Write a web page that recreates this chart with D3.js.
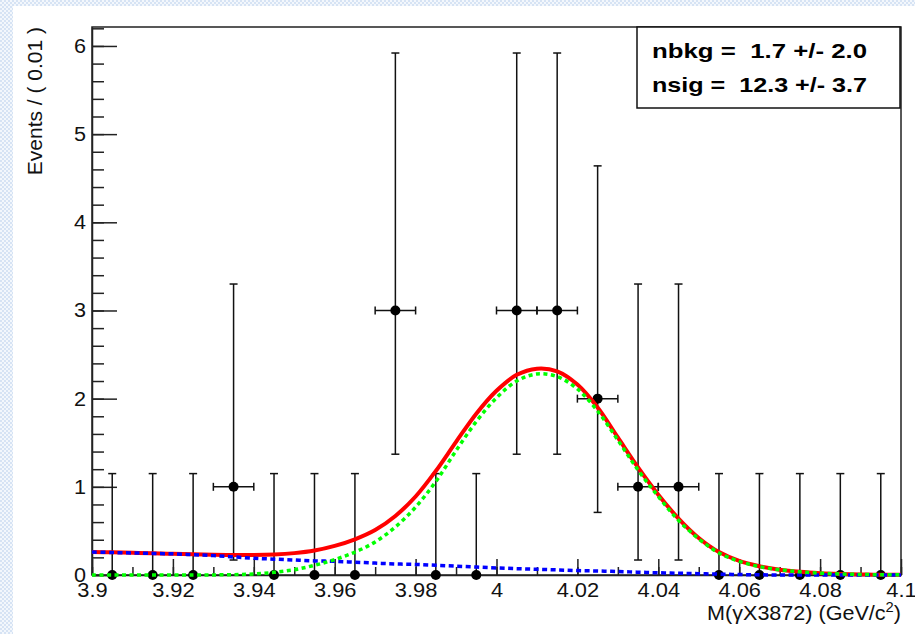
<!DOCTYPE html>
<html>
<head>
<meta charset="utf-8">
<script src="https://cdn.jsdelivr.net/npm/d3@7"></script>
<style>
  html, body { margin: 0; padding: 0; background: #fff; }
  svg { display: block; font-family: "Liberation Sans", Arial, sans-serif; }
</style>
</head>
<body>
<div id="chart-container"></div>
<script>
// Binned data: M(gamma X3872) bins of 0.01 GeV
const binCenters = [3.905, 3.915, 3.925, 3.935, 3.945, 3.955, 3.965, 3.975, 3.985, 3.995,
                    4.005, 4.015, 4.025, 4.035, 4.045, 4.055, 4.065, 4.075, 4.085, 4.095];
const counts    = [0, 0, 0, 1, 0, 0, 0, 3, 0, 0, 3, 3, 2, 1, 1, 0, 0, 0, 0, 0];
// Poisson error bar ends
const errLow    = [0, 0, 0, 0.17, 0, 0, 0, 1.37, 0, 0, 1.37, 1.37, 0.71, 0.17, 0.17, 0, 0, 0, 0, 0];
const errHigh   = [1.15, 1.15, 1.15, 3.30, 1.15, 1.15, 1.15, 5.92, 1.15, 1.15,
                   5.92, 5.92, 4.64, 3.30, 3.30, 1.15, 1.15, 1.15, 1.15, 1.15];

// Fit curves, read at the points of massGrid
const massGrid = [3.900, 3.905, 3.910, 3.915, 3.920, 3.925, 3.930, 3.935, 3.940, 3.945,
                  3.950, 3.955, 3.960, 3.965, 3.970, 3.975, 3.980, 3.985, 3.990, 3.995,
                  4.000, 4.005, 4.010, 4.015, 4.020, 4.025, 4.030, 4.035, 4.040, 4.045,
                  4.050, 4.055, 4.060, 4.065, 4.070, 4.075, 4.080, 4.085, 4.090, 4.095, 4.100];
const totalCurve = [0.26, 0.257, 0.252, 0.246, 0.24, 0.235, 0.23, 0.227, 0.226, 0.232,
                    0.248, 0.278, 0.33, 0.405, 0.51, 0.67, 0.89, 1.18, 1.51, 1.83,
                    2.09, 2.27, 2.34, 2.31, 2.16, 1.90, 1.56, 1.22, 0.91, 0.64,
                    0.42, 0.26, 0.16, 0.10, 0.06, 0.036, 0.021, 0.012, 0.006, 0.003, 0.002];
const bkgCurve   = [0.26, 0.255, 0.25, 0.245, 0.24, 0.23, 0.22, 0.205, 0.19, 0.18,
                    0.17, 0.16, 0.155, 0.145, 0.135, 0.125, 0.12, 0.11, 0.10, 0.09,
                    0.08, 0.072, 0.065, 0.058, 0.05, 0.045, 0.04, 0.032, 0.025, 0.02,
                    0.015, 0.01, 0.005, 0.002, 0, 0, 0, 0, 0, 0, 0];
const sigCurve   = [0, 0, 0, 0, 0, 0, 0.001, 0.004, 0.012, 0.03,
                    0.06, 0.11, 0.175, 0.26, 0.375, 0.545, 0.77, 1.06, 1.41, 1.74,
                    2.01, 2.20, 2.28, 2.25, 2.11, 1.86, 1.53, 1.19, 0.89, 0.62,
                    0.41, 0.25, 0.155, 0.095, 0.06, 0.036, 0.021, 0.012, 0.006, 0.003, 0.002];

const xTicks = [3.9, 3.92, 3.94, 3.96, 3.98, 4.0, 4.02, 4.04, 4.06, 4.08, 4.1];
const xTickLabels = ["3.9", "3.92", "3.94", "3.96", "3.98", "4", "4.02", "4.04", "4.06", "4.08", "4.1"];
const yTicks = [0, 1, 2, 3, 4, 5, 6];
const legendLines = ["nbkg =  1.7 +/- 2.0", "nsig =  12.3 +/- 3.7"];

const width = 915;
const height = 634;
const margin = { top: 27, right: 14, bottom: 59, left: 92 };

const svg = d3.select("#chart-container")
    .append("svg")
    .attr("width", width)
    .attr("height", height);

// the reference text is drawn a little wider than Liberation Sans, stretch it
function stretch(sel, factor) {
    sel.each(function () {
        const len = this.getComputedTextLength();
        d3.select(this)
            .attr("textLength", len * factor)
            .attr("lengthAdjust", "spacingAndGlyphs");
    });
}

// Checkered strip along the top and left edges (canvas viewer background)
const defs = svg.append("defs");
const pat = defs.append("pattern")
    .attr("id", "checker")
    .attr("width", 4)
    .attr("height", 4)
    .attr("patternUnits", "userSpaceOnUse");
pat.append("rect").attr("width", 4).attr("height", 4).attr("fill", "#f3f7fc");
pat.append("rect").attr("width", 2).attr("height", 2).attr("fill", "#d6e3f4");
pat.append("rect").attr("x", 2).attr("y", 2).attr("width", 2).attr("height", 2).attr("fill", "#d6e3f4");
svg.append("rect").attr("x", 0).attr("y", 0).attr("width", width).attr("height", 6).attr("fill", "url(#checker)");
svg.append("rect").attr("x", 0).attr("y", 0).attr("width", 13).attr("height", height).attr("fill", "url(#checker)");

const x = d3.scaleLinear()
    .domain([3.9, 4.1])
    .range([margin.left, width - margin.right]);
const y = d3.scaleLinear()
    .domain([0, 6.215])
    .range([height - margin.bottom, margin.top]);

const x0 = x.range()[0], x1 = x.range()[1];
const y0 = y.range()[0], y1 = y.range()[1];

// Frame
svg.append("rect")
    .attr("x", x0).attr("y", y1)
    .attr("width", x1 - x0).attr("height", y0 - y1)
    .attr("fill", "none")
    .attr("stroke", "#222")
    .attr("stroke-width", 1.5);

// Y axis: minor ticks every 0.2, major every 1, pointing inward
svg.append("g")
    .attr("transform", `translate(${x0},0)`)
    .call(d3.axisLeft(y).tickValues(d3.range(0, 6.21, 0.2)).tickSize(-12).tickSizeOuter(0).tickFormat(""))
    .call(g => g.select(".domain").remove())
    .call(g => g.selectAll("line").attr("stroke", "#222").attr("stroke-width", 1.5));

svg.append("g")
    .attr("transform", `translate(${x0},0)`)
    .call(d3.axisLeft(y).tickValues(yTicks).tickSize(-25).tickSizeOuter(0).tickPadding(6).tickFormat(d3.format("d")))
    .call(g => g.select(".domain").attr("stroke", "#222").attr("stroke-width", 1.5))
    .call(g => g.selectAll("line").attr("stroke", "#222").attr("stroke-width", 1.5))
    .call(g => g.selectAll("text").attr("fill", "#111").style("font-size", "20px").attr("dy", "0.32em"))
    .call(g => stretch(g.selectAll("text"), 1.08));

// X axis: minor ticks every 0.01, major every 0.02, pointing up
svg.append("g")
    .attr("transform", `translate(0,${y0})`)
    .call(d3.axisBottom(x).tickValues(d3.range(0, 21).map(i => 3.9 + i * 0.01)).tickSize(-8).tickSizeOuter(0).tickFormat(""))
    .call(g => g.select(".domain").remove())
    .call(g => g.selectAll("line").attr("stroke", "#222").attr("stroke-width", 1.5));

svg.append("g")
    .attr("transform", `translate(0,${y0})`)
    .call(d3.axisBottom(x).tickValues(xTicks).tickSize(-16).tickSizeOuter(0).tickPadding(8)
        .tickFormat((d, i) => xTickLabels[i]))
    .call(g => g.select(".domain").attr("stroke", "#222").attr("stroke-width", 1.5))
    .call(g => g.selectAll("line").attr("stroke", "#222").attr("stroke-width", 1.5))
    .call(g => g.selectAll("text").attr("fill", "#111").style("font-size", "19.5px").attr("dy", "0.71em"))
    .call(g => stretch(g.selectAll("text"), 1.12));

// Axis titles
svg.append("text")
    .attr("transform", `translate(42,${y1}) rotate(-90)`)
    .attr("text-anchor", "end")
    .attr("fill", "#111")
    .style("font-size", "21px")
    .text("Events / ( 0.01 )");

const xTitle = svg.append("text")
    .attr("text-anchor", "end")
    .attr("fill", "#111")
    .style("font-size", "20.5px");
xTitle.append("tspan").text("M(γX3872) (GeV/c");
xTitle.append("tspan").attr("dy", -8).style("font-size", "14px").text("2");
xTitle.append("tspan").attr("dy", 8).text(")");
const xTitleW = xTitle.node().getBBox().width;
xTitle.attr("transform", `translate(${x1},620) scale(${194 / xTitleW},1)`);

// Data points with error bars
const pts = binCenters.map((c, i) => ({ c, n: counts[i], lo: errLow[i], hi: errHigh[i] }));
const dataG = svg.append("g").attr("stroke", "#111").attr("stroke-width", 1.5);

dataG.selectAll(".ybar")
    .data(pts)
    .enter()
    .append("line")
    .attr("x1", d => x(d.c)).attr("x2", d => x(d.c))
    .attr("y1", d => y(d.lo)).attr("y2", d => y(d.hi));

dataG.selectAll(".capHi")
    .data(pts)
    .enter()
    .append("line")
    .attr("x1", d => x(d.c) - 4).attr("x2", d => x(d.c) + 4)
    .attr("y1", d => y(d.hi)).attr("y2", d => y(d.hi));

dataG.selectAll(".capLo")
    .data(pts.filter(d => d.lo > 0))
    .enter()
    .append("line")
    .attr("x1", d => x(d.c) - 4).attr("x2", d => x(d.c) + 4)
    .attr("y1", d => y(d.lo)).attr("y2", d => y(d.lo));

const nz = pts.filter(d => d.n > 0);
dataG.selectAll(".xbar")
    .data(nz)
    .enter()
    .append("line")
    .attr("x1", d => x(d.c - 0.005)).attr("x2", d => x(d.c + 0.005))
    .attr("y1", d => y(d.n)).attr("y2", d => y(d.n));

dataG.selectAll(".xcapL")
    .data(nz)
    .enter()
    .append("line")
    .attr("x1", d => x(d.c - 0.005)).attr("x2", d => x(d.c - 0.005))
    .attr("y1", d => y(d.n) - 4).attr("y2", d => y(d.n) + 4);

dataG.selectAll(".xcapR")
    .data(nz)
    .enter()
    .append("line")
    .attr("x1", d => x(d.c + 0.005)).attr("x2", d => x(d.c + 0.005))
    .attr("y1", d => y(d.n) - 4).attr("y2", d => y(d.n) + 4);

svg.append("g")
    .selectAll("circle")
    .data(pts)
    .enter()
    .append("circle")
    .attr("cx", d => x(d.c))
    .attr("cy", d => y(d.n))
    .attr("r", 5)
    .attr("fill", "#000");

// Fit curves
const curveLine = vals => d3.line()
    .x((d, i) => x(massGrid[i]))
    .y(d => y(Math.max(0, d)))
    .curve(d3.curveCatmullRom.alpha(0.5))(vals);

svg.append("path")
    .attr("d", curveLine(totalCurve))
    .attr("fill", "none")
    .attr("stroke", "#ff0000")
    .attr("stroke-width", 4);

svg.append("path")
    .attr("d", curveLine(bkgCurve))
    .attr("fill", "none")
    .attr("stroke", "#0000ff")
    .attr("stroke-width", 3.5)
    .attr("stroke-dasharray", "5,3.5");

svg.append("path")
    .attr("d", curveLine(sigCurve))
    .attr("fill", "none")
    .attr("stroke", "#00ff00")
    .attr("stroke-width", 3.5)
    .attr("stroke-dasharray", "4,3.5");

// Fit result box
svg.append("rect")
    .attr("x", 637).attr("y", y1)
    .attr("width", 263).attr("height", 81)
    .attr("fill", "#fff")
    .attr("stroke", "#111")
    .attr("stroke-width", 1.5);

svg.selectAll(".legendText")
    .data(legendLines)
    .enter()
    .append("text")
    .attr("class", "legendText")
    .attr("x", 652)
    .attr("y", (d, i) => 58 + i * 34)
    .attr("fill", "#000")
    .style("font-size", "21px")
    .style("font-weight", "bold")
    .style("white-space", "pre")
    .text(d => d)
    .attr("textLength", 215)
    .attr("lengthAdjust", "spacingAndGlyphs");
</script>
</body>
</html>
